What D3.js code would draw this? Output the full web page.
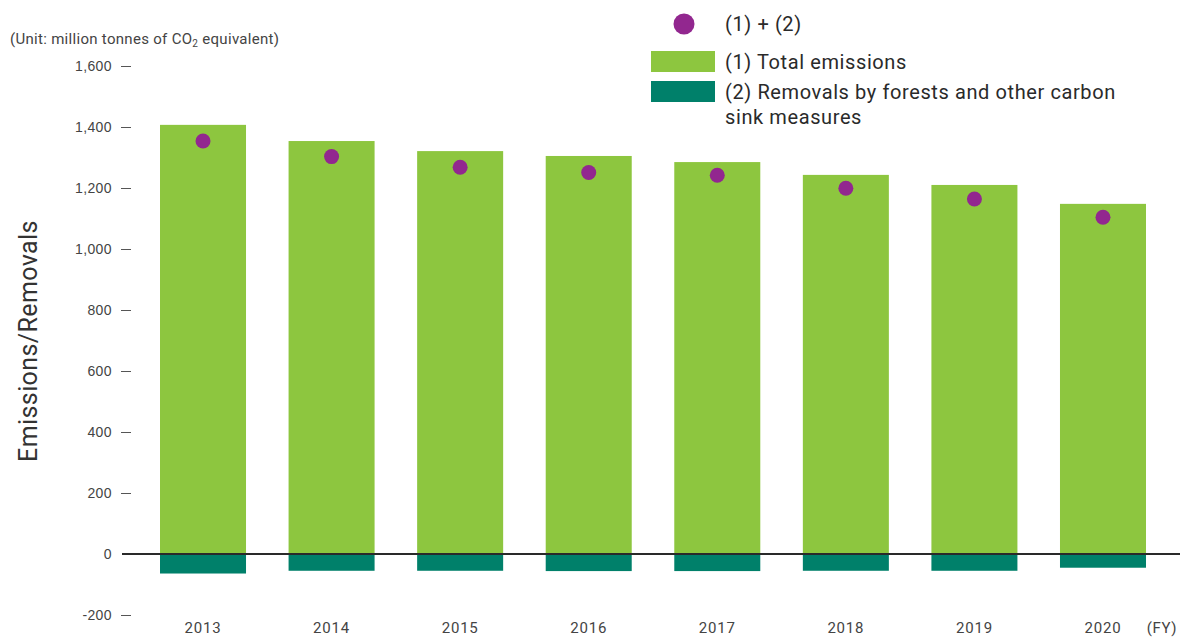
<!DOCTYPE html>
<html>
<head>
<meta charset="utf-8">
<script src="https://cdn.jsdelivr.net/npm/d3@7"></script>
<style>
  body { margin: 0; background: #fff; }
  svg { display: block; font-family: Roboto, 'Noto Sans', sans-serif; }
  .tick text { fill: #444; }
</style>
</head>
<body>
<div id="vis"></div>
<script>
'use strict';

//data
var years = ['2013', '2014', '2015', '2016', '2017', '2018', '2019', '2020'];
var totalEmissions = [1407, 1354, 1321, 1305, 1285, 1243, 1210, 1148];
var removals = [-64, -55, -55, -56, -56, -55, -55, -45];
var netValues = [1354, 1303, 1268, 1251, 1242, 1199, 1164, 1104];
var yTicks = [-200, 0, 200, 400, 600, 800, 1000, 1200, 1400, 1600];

var colors = { total: '#8dc63f', removal: '#00806a', net: '#92278f' };

var width = 1180, height = 638;

var svg = d3.select('#vis')
    .append('svg')
    .attr('width', width)
    .attr('height', height);

//scales
var x = d3.scaleBand()
    .domain(years)
    .range([122, 1184])
    .paddingInner(0.331)
    .paddingOuter(0.2956);
var y = d3.scaleLinear()
    .domain([0, 1600])
    .range([554, 66]);

//emission bars
svg.selectAll('.bar-total')
    .data(years)
    .enter()
    .append('rect')
    .attr('class', 'bar-total')
    .attr('x', function (d) { return x(d); })
    .attr('width', x.bandwidth())
    .attr('y', function (d, i) { return y(totalEmissions[i]); })
    .attr('height', function (d, i) { return y(0) - y(totalEmissions[i]); })
    .style('fill', colors.total);

//removal bars
svg.selectAll('.bar-removal')
    .data(years)
    .enter()
    .append('rect')
    .attr('class', 'bar-removal')
    .attr('x', function (d) { return x(d); })
    .attr('width', x.bandwidth())
    .attr('y', y(0))
    .attr('height', function (d, i) { return y(removals[i]) - y(0); })
    .style('fill', colors.removal);

//net dots
svg.selectAll('.dot-net')
    .data(years)
    .enter()
    .append('circle')
    .attr('class', 'dot-net')
    .attr('cx', function (d) { return x(d) + x.bandwidth() / 2; })
    .attr('cy', function (d, i) { return y(netValues[i]); })
    .attr('r', 7.5)
    .style('fill', colors.net);

//zero line
svg.append('line')
    .attr('x1', 122)
    .attr('x2', width)
    .attr('y1', y(0))
    .attr('y2', y(0))
    .style('stroke', '#2a2a2a')
    .style('stroke-width', 2);

//y axis
var yAxis = svg.append('g')
    .attr('transform', 'translate(131, 0)')
    .call(d3.axisLeft(y)
        .tickValues(yTicks)
        .tickSize(10)
        .tickPadding(9)
        .tickFormat(function (d) { return d < 0 ? '-' + d3.format(',')(-d) : d3.format(',')(d); }));
yAxis.select('.domain').remove();
yAxis.selectAll('.tick line')
    .style('stroke', '#555')
    .style('display', function (d) { return d === 0 ? 'none' : null; });
yAxis.selectAll('.tick text')
    .style('font-size', '14px')
    .style('letter-spacing', '0.4px');

//x labels
svg.selectAll('.year-label')
    .data(years)
    .enter()
    .append('text')
    .attr('class', 'year-label')
    .attr('x', function (d) { return x(d) + x.bandwidth() / 2; })
    .attr('y', 633)
    .attr('text-anchor', 'middle')
    .style('font-size', '15px')
    .style('letter-spacing', '0.8px')
    .style('fill', '#444')
    .text(function (d) { return d; });
svg.append('text')
    .attr('x', 1177)
    .attr('y', 633)
    .attr('text-anchor', 'end')
    .style('font-size', '15px')
    .style('letter-spacing', '0.6px')
    .style('fill', '#444')
    .text('(FY)');

//axis title + unit
svg.append('text')
    .attr('transform', 'translate(37, 341) rotate(-90)')
    .attr('text-anchor', 'middle')
    .style('font-size', '25px')
    .style('letter-spacing', '0.4px')
    .style('fill', '#333')
    .text('Emissions/Removals');

var unit = svg.append('text')
    .attr('x', 10)
    .attr('y', 44)
    .style('font-size', '15px')
    .style('letter-spacing', '0.3px')
    .style('fill', '#444');
unit.append('tspan').text('(Unit: million tonnes of CO');
unit.append('tspan').attr('dy', 3).style('font-size', '10px').text('2');
unit.append('tspan').attr('dy', -3).text(' equivalent)');

//legend
var legend = svg.append('g')
    .style('font-size', '20px')
    .style('letter-spacing', '0.6px')
    .style('fill', '#2a2a2a');
legend.append('circle')
    .attr('cx', 684).attr('cy', 24).attr('r', 10.5)
    .style('fill', colors.net);
legend.append('text').attr('x', 725).attr('y', 31).text('(1) + (2)');
legend.append('rect')
    .attr('x', 651).attr('y', 51).attr('width', 64).attr('height', 21)
    .style('fill', colors.total);
legend.append('text').attr('x', 725).attr('y', 69).text('(1) Total emissions');
legend.append('rect')
    .attr('x', 651).attr('y', 81).attr('width', 64).attr('height', 21)
    .style('fill', colors.removal);
legend.append('text').attr('x', 725).attr('y', 99).text('(2) Removals by forests and other carbon');
legend.append('text').attr('x', 725).attr('y', 124).text('sink measures');
</script>
</body>
</html>
